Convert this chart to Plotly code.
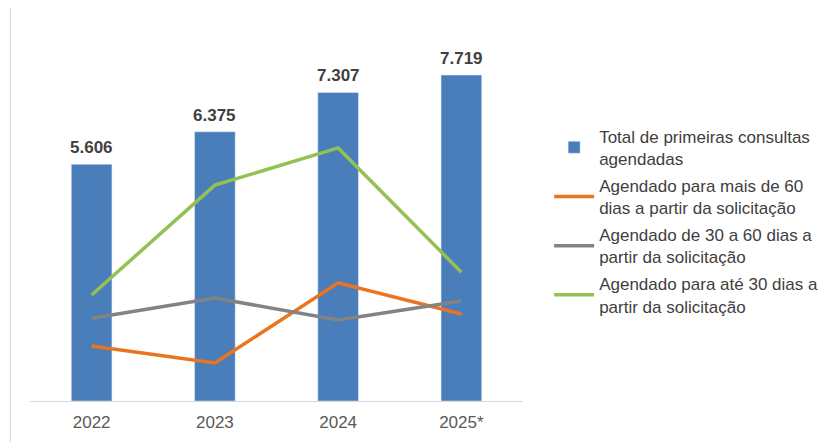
import plotly.graph_objects as go

years = ['2022', '2023', '2024', '2025*']
total_consultas = [5606, 6375, 7307, 7719]
total_labels = ['5.606', '6.375', '7.307', '7.719']

# shares on a hidden secondary axis (no scale shown)
mais_60 = [14.5, 10.0, 31.1, 22.9]
de_30_a_60 = [21.8, 27.1, 21.3, 26.3]
ate_30 = [27.9, 56.8, 66.6, 33.9]

FONT = 'Liberation Sans, Arial, sans-serif'
xpos = list(range(len(years)))

fig = go.Figure()

fig.add_trace(go.Bar(
    x=xpos, y=total_consultas,
    name='Total de primeiras consultas<br>agendadas',
    marker=dict(color='#4a7ebb'),
    width=0.33,
    legendgroup='a',
))
fig.add_trace(go.Scatter(
    x=xpos, y=mais_60, yaxis='y2', mode='lines',
    name='Agendado para mais de 60<br>dias a partir da solicitação',
    line=dict(color='#ec7320', width=3.5),
    legendgroup='b',
))
fig.add_trace(go.Scatter(
    x=xpos, y=de_30_a_60, yaxis='y2', mode='lines',
    name='Agendado de 30 a 60 dias a<br>partir da solicitação',
    line=dict(color='#838383', width=3.5),
    legendgroup='c',
))
fig.add_trace(go.Scatter(
    x=xpos, y=ate_30, yaxis='y2', mode='lines',
    name='Agendado para até 30 dias a<br>partir da solicitação',
    line=dict(color='#93c152', width=3.5),
    legendgroup='d',
))

for xp, val, lab in zip(xpos, total_consultas, total_labels):
    fig.add_annotation(
        x=xp, y=val, text='<b>%s</b>' % lab, showarrow=False,
        yanchor='bottom', yshift=5,
        font=dict(size=17, color='#404040', family=FONT),
    )

# faint left edge of the cropped source picture
fig.add_shape(type='line', xref='paper', yref='paper',
              x0=-0.04, x1=-0.04, y0=-0.12, y1=1.04,
              line=dict(color='#d6d6d6', width=1))

# the page body adds an 8px offset, so margins are shifted to compensate
fig.update_layout(
    width=827, height=442,
    margin=dict(l=22, r=308, t=13, b=49),
    plot_bgcolor='white',
    paper_bgcolor='white',
    font=dict(family=FONT, size=17, color='#404040'),
    showlegend=True,
    legend=dict(
        x=1.053, y=0.743, xanchor='left', yanchor='top',
        font=dict(size=17, color='#404040', family=FONT),
        tracegroupgap=2,
        itemwidth=40,
        bgcolor='rgba(0,0,0,0)',
    ),
    xaxis=dict(
        range=[-0.5, 3.5], tickmode='array', tickvals=xpos, ticktext=years,
        showgrid=False, zeroline=False, showline=True, linecolor='#d9d9d9', linewidth=1,
        ticks='', ticklabelstandoff=6, tickfont=dict(size=17, color='#595959'),
    ),
    yaxis=dict(range=[0, 9000], visible=False, showgrid=False),
    yaxis2=dict(range=[0, 100], overlaying='y', visible=False, showgrid=False),
)

fig.write_html("out.html")
